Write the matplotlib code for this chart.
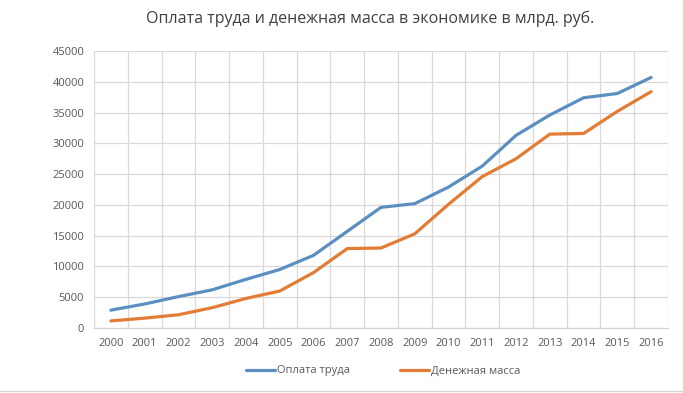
import numpy as np
import matplotlib
matplotlib.use('Agg')
from matplotlib import pyplot as plt
from matplotlib.ticker import MultipleLocator

years = [str(y) for y in range(2000, 2017)]
wages = [2900, 3900, 5100, 6200, 7900, 9500, 11800, 15700, 19600, 20200,
         22900, 26300, 31300, 34600, 37400, 38100, 40700]
money = [1150, 1600, 2150, 3300, 4800, 6000, 9000, 12900, 13000, 15300,
         20100, 24600, 27500, 31500, 31600, 35200, 38400]
title = 'Оплата труда и денежная масса в экономике в млрд. руб.'

plt.rcParams['font.family'] = ['Open Sans', 'DejaVu Sans']

fig = plt.figure(figsize=(6.84, 3.93), dpi=100)
ax = fig.add_axes([94 / 684, 65 / 393, 574 / 684, 277 / 393])

x = np.arange(len(years))
ax.plot(x, wages, color='#5b8fc2', lw=2.3, label='Оплата труда', solid_capstyle='round')
ax.plot(x, money, color='#e37c35', lw=2.3, label='Денежная масса', solid_capstyle='round')

ax.set_xlim(-0.5, len(years) - 0.5)
ax.set_ylim(0, 45000)
ax.set_xticks(x)
ax.set_xticklabels(years)
ax.xaxis.set_minor_locator(MultipleLocator(1, offset=0.5))
ax.yaxis.set_major_locator(MultipleLocator(5000))
ax.grid(which='minor', axis='x', color='#d9d9d9', lw=0.9)
ax.grid(which='major', axis='y', color='#d9d9d9', lw=0.9)
ax.set_axisbelow(True)
for s in ['top', 'right', 'left']:
    ax.spines[s].set_visible(False)
ax.spines['bottom'].set_color('#d0d0d0')
ax.tick_params(which='both', length=0, labelsize=8, colors='#595959', pad=7)

fig.text(0.541, 0.952, title, ha='center', va='center', fontsize=11.5, color='#404040')
fig.legend(loc='center', bbox_to_anchor=(0.56, 0.056), ncol=2, frameon=False,
           fontsize=8, handlelength=2.6, handletextpad=0.2, columnspacing=4.5,
           labelcolor='#595959')

# faint frame lines at the right and bottom edge of the picture
fig.add_artist(plt.Line2D([0.998, 0.998], [0.0, 1.0], color='#d8d8d8', lw=1))
fig.add_artist(plt.Line2D([0.0, 1.0], [0.004, 0.004], color='#d8d8d8', lw=1))

fig.savefig('out.png', dpi=100)
